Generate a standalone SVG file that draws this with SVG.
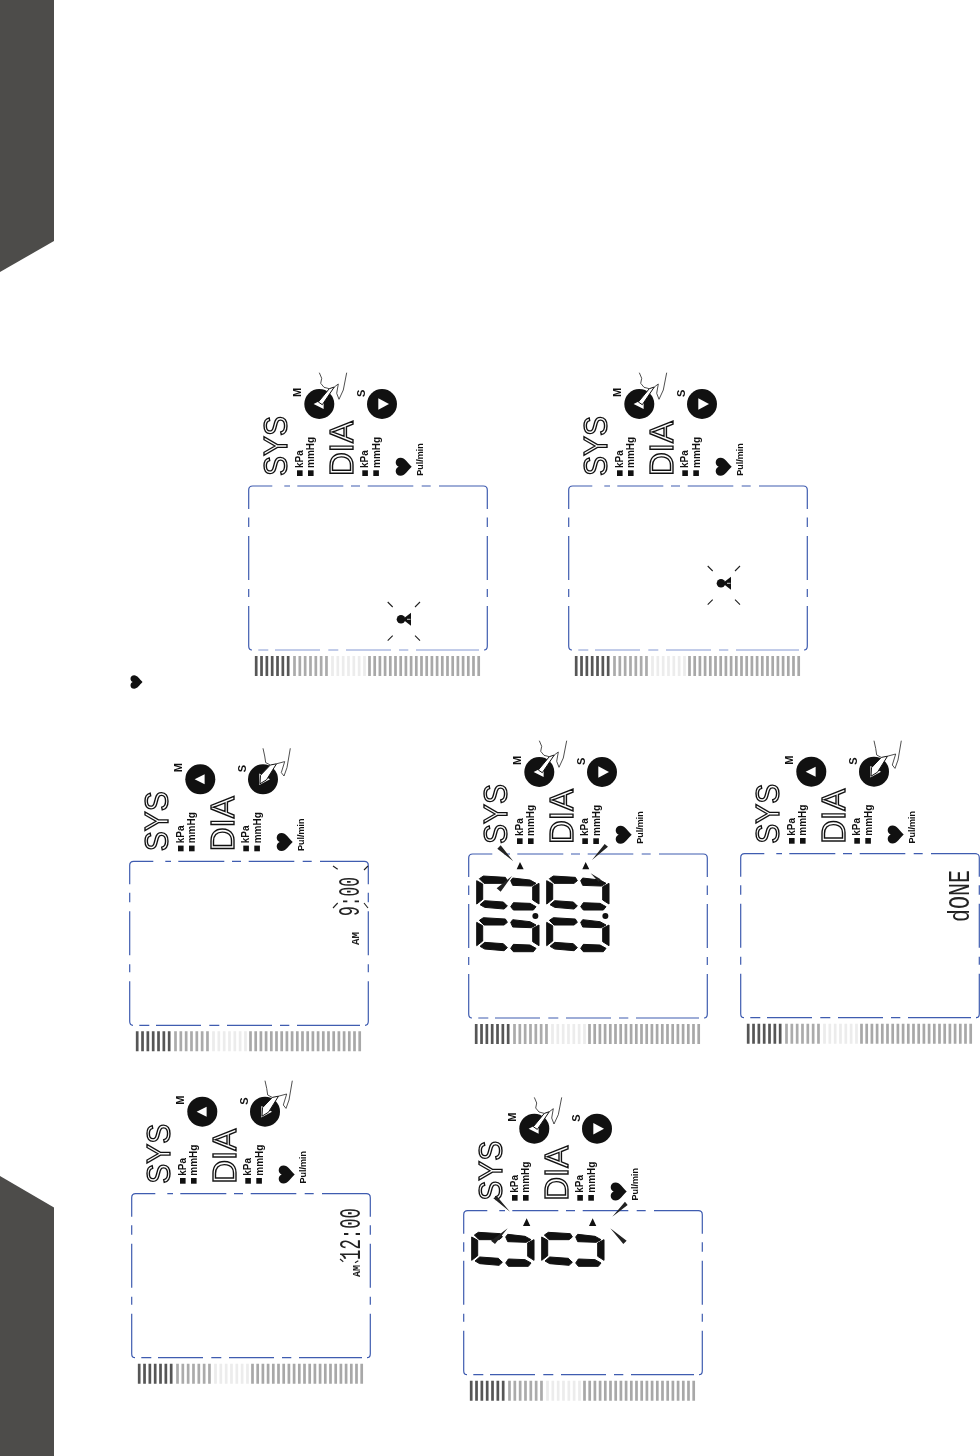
<svg xmlns="http://www.w3.org/2000/svg" width="980" height="1456" viewBox="0 0 980 1456">
<style>
text{font-family:"Liberation Sans",Arial,sans-serif}
.big{font-size:33px;fill:#fff;stroke:#111;stroke-width:1.4px}
.unit{font-size:10px;font-weight:700;fill:#111}
.key{font-size:11px;font-weight:700;fill:#111}
.pul{font-size:9px;font-weight:700;fill:#111}
.lcd{font-family:"Liberation Mono","DejaVu Sans Mono",monospace;font-size:30px;fill:#222}
.am{font-family:"Liberation Mono","DejaVu Sans Mono",monospace;font-size:10px;font-weight:700;fill:#222}
.edge{fill:none;stroke:#3f5cb0;stroke-width:1.2;stroke-linecap:butt}
.pale{fill:none;stroke:#aebce2;stroke-width:1.5}
.ink{fill:#111}
.seg{stroke:#111;stroke-width:3;stroke-linejoin:round}
.flash{fill:none;stroke:#222;stroke-width:1.1}
.hand{fill:none;stroke:#222;stroke-width:.8}
.finger{fill:#fff;stroke:#111;stroke-width:1}
.wedge{fill:#222}
</style>
<defs>
<g id="bars" fill="none" stroke-width="2.7">
<path stroke="#565656" d="M256.2 656v20m5.33-20v20m5.33-20v20m5.33-20v20m5.33-20v20m5.33-20v20m5.33-20v20"/>
<path stroke="#ababab" d="M294.5 656v20m5.33-20v20m5.33-20v20m5.33-20v20m5.33-20v20m5.33-20v20m5.33-20v20"/>
<path stroke="#ececec" d="M332.5 656v20m5.33-20v20m5.33-20v20m5.33-20v20m5.33-20v20m5.33-20v20m5.33-20v20"/>
<path stroke="#a8a8a8" d="M369.5 656v20m5.2-20v20m5.2-20v20m5.2-20v20m5.2-20v20m5.2-20v20m5.2-20v20m5.2-20v20m5.2-20v20m5.2-20v20m5.2-20v20m5.2-20v20m5.2-20v20m5.2-20v20m5.2-20v20m5.2-20v20m5.2-20v20m5.2-20v20m5.2-20v20m5.2-20v20m5.2-20v20m5.2-20v20"/>
</g>
<path id="box" class="edge" d="M272.3 486H252.7Q248.7 486 248.7 490V509M284.3 486H290M297.3 486H343.3M351 486H360M367.7 486H413.3M421.7 486H430.7M439 486H483.3Q487.3 486 487.3 490V509M248.7 517.5V527M248.7 536V580M248.7 589V597M248.7 606V646Q248.7 650 252 650M487.3 517.5V527M487.3 536V580M487.3 589V597M487.3 606V646Q487.3 650 484 650"/>
<path id="bottom" d="M258.3 650H268.3M275 650H320M328.3 650H338.3M346 650H391M399 650H408.3M416 650H479"/>
<path id="heart" class="ink" d="M0 8C-4 4-9 1-9-3C-9-6-7-8-4.5-8C-2.5-8-.8-7 0-5C.8-7 2.5-8 4.5-8C7-8 9-6 9-3C9 1 4 4 0 8Z"/>
<g id="buttons">
<circle class="ink" cx="319.3" cy="404" r="15"/>
<path fill="#fff" d="M313.6 404L323.6 399V409Z"/>
<circle class="ink" cx="382" cy="404" r="15"/>
<path fill="#fff" d="M389 404L378.3 398.2V409.8Z"/>
</g>
<g id="hand-m">
<path class="hand" d="M319.3 372.7L321.7 378.3L320.7 383.3L324 387.3L329.3 388.7M334.3 387L338.3 384L336.7 393.3L339 399.3L343.3 390L346.7 372.7"/>
<path class="finger" d="M329.3 388.7L318.3 402L322.3 404.7L334.3 387Z"/>
</g>
<g id="hand-s">
<path class="hand" d="M382 373L383.7 380.7L384.7 387.3L389.3 389.7M395.5 388.5L403.7 386.3L400.3 397.3L403 400.7L406 392.3L409.3 373"/>
<path class="finger" d="M389.3 389.7L379.5 400L379 408.5L385.5 404.5L395.5 388.5Z"/>
</g>
<g id="pair" class="seg">
<path d="M0 12L18 22V68L0 82ZM8 6L20 -2L86 2L92 12L82 20H22ZM10 84L24 72L80 76L92 88L82 97L24 92ZM102 12L108 4L160 10L178 20L164 28L108 26ZM187 20V82L168 70V30ZM102 90L110 78L160 80L178 90L170 100H110Z"/>
<path transform="translate(210 0)" d="M0 12L18 22V68L0 82ZM8 6L20 -2L86 2L92 12L82 20H22ZM10 84L24 72L80 76L92 88L82 97L24 92ZM102 12L108 4L160 10L178 20L164 28L108 26ZM187 20V82L168 70V30ZM102 90L110 78L160 80L178 90L170 100H110Z"/>
</g>
<g id="user">
<circle class="ink" cx="401" cy="619.3" r="4.3"/>
<path class="ink" d="M402.5 619.3L411 612.8V625.8Z"/>
<path fill="none" stroke="#fff" stroke-width=".8" d="M407 619.3H410.5"/>
<path class="flash" d="M387.7 602L392.7 607M420 602L415 607M387.7 640.7L392.7 635.7M420 640.7L415 635.7"/>
</g>
</defs>
<g id="page" style="opacity:.999">
<rect width="0" height="0" fill="none"/>
<g id="corners">
<path fill="#4d4c4a" d="M0 0H54V241L0 272Z"/>
<path fill="#4d4c4a" d="M0 1176L54 1207.5V1456H0Z"/>
</g>
<use id="small-heart" href="#heart" transform="translate(136.5 682) rotate(-90) scale(.75)"/>

<g id="panel-1">
<use href="#bars"/><use href="#box"/><use href="#bottom" class="pale"/>
<text class="big" transform="translate(286.5 476) rotate(-90)" textLength="60" lengthAdjust="spacingAndGlyphs">SYS</text>
<text class="big" transform="translate(352.5 476) rotate(-90)" textLength="55" lengthAdjust="spacingAndGlyphs">DIA</text>
<rect class="ink" x="297" y="470.3" width="5.6" height="5.7"/><rect class="ink" x="308" y="470.3" width="5.6" height="5.7"/><rect class="ink" x="362.3" y="470.3" width="5.6" height="5.7"/><rect class="ink" x="373.3" y="470.3" width="5.6" height="5.7"/>
<text class="unit" transform="translate(302.7 468) rotate(-90)">kPa</text>
<text class="unit" transform="translate(313.7 468) rotate(-90)">mmHg</text>
<text class="unit" transform="translate(368.3 468) rotate(-90)">kPa</text>
<text class="unit" transform="translate(379.5 468) rotate(-90)">mmHg</text>
<use href="#heart" transform="translate(403.7 466.7) rotate(-90)"/>
<text class="pul" transform="translate(422.7 475.7) rotate(-90)">Pul/min</text>
<use href="#buttons"/>
<text class="key" transform="translate(300.5 397) rotate(-90)">M</text>
<text class="key" transform="translate(364.5 397) rotate(-90)">S</text>
<use href="#hand-m"/><use href="#user"/>
</g>

<g id="panel-2"><g transform="translate(320 0)">
<use href="#bars"/><use href="#box"/><use href="#bottom" class="pale"/>
<text class="big" transform="translate(286.5 476) rotate(-90)" textLength="60" lengthAdjust="spacingAndGlyphs">SYS</text>
<text class="big" transform="translate(352.5 476) rotate(-90)" textLength="55" lengthAdjust="spacingAndGlyphs">DIA</text>
<rect class="ink" x="297" y="470.3" width="5.6" height="5.7"/><rect class="ink" x="308" y="470.3" width="5.6" height="5.7"/><rect class="ink" x="362.3" y="470.3" width="5.6" height="5.7"/><rect class="ink" x="373.3" y="470.3" width="5.6" height="5.7"/>
<text class="unit" transform="translate(302.7 468) rotate(-90)">kPa</text>
<text class="unit" transform="translate(313.7 468) rotate(-90)">mmHg</text>
<text class="unit" transform="translate(368.3 468) rotate(-90)">kPa</text>
<text class="unit" transform="translate(379.5 468) rotate(-90)">mmHg</text>
<use href="#heart" transform="translate(403.7 466.7) rotate(-90)"/>
<text class="pul" transform="translate(422.7 475.7) rotate(-90)">Pul/min</text>
<use href="#buttons"/>
<text class="key" transform="translate(300.5 397) rotate(-90)">M</text>
<text class="key" transform="translate(364.5 397) rotate(-90)">S</text>
<use href="#hand-m"/><use href="#user" transform="translate(0 -36)"/>
</g></g>

<g id="panel-3"><g transform="translate(220 368)">
<use href="#bars"/><use href="#box"/><use href="#bottom" class="edge"/>
<text class="big" transform="translate(286.5 476) rotate(-90)" textLength="60" lengthAdjust="spacingAndGlyphs">SYS</text>
<text class="big" transform="translate(352.5 476) rotate(-90)" textLength="55" lengthAdjust="spacingAndGlyphs">DIA</text>
<rect class="ink" x="297" y="470.3" width="5.6" height="5.7"/><rect class="ink" x="308" y="470.3" width="5.6" height="5.7"/><rect class="ink" x="362.3" y="470.3" width="5.6" height="5.7"/><rect class="ink" x="373.3" y="470.3" width="5.6" height="5.7"/>
<text class="unit" transform="translate(302.7 468) rotate(-90)">kPa</text>
<text class="unit" transform="translate(313.7 468) rotate(-90)">mmHg</text>
<text class="unit" transform="translate(368.3 468) rotate(-90)">kPa</text>
<text class="unit" transform="translate(379.5 468) rotate(-90)">mmHg</text>
<use href="#heart" transform="translate(403.7 466.7) rotate(-90)"/>
<text class="pul" transform="translate(422.7 475.7) rotate(-90)">Pul/min</text>
<use href="#buttons"/>
<text class="key" transform="translate(300.5 397) rotate(-90)">M</text>
<text class="key" transform="translate(364.5 397) rotate(-90)">S</text>
<use href="#hand-m"/>
</g>
<g transform="translate(476.7 876.7) scale(.3333)" fill="#111">
<use href="#pair"/><use href="#pair" y="125"/>
<circle cx="176" cy="118" r="9"/><circle cx="386" cy="118" r="9"/>
</g>
<g transform="translate(470 840) scale(.3333)">
<path class="ink" d="M140 88L150 66L161 88ZM337 88L347 66L358 88Z"/>
<path class="wedge" d="M82 26L92 16L130 64ZM404 12L414 20L366 60ZM80 145L92 155L126 108ZM392 118L386 126L362 100Z"/>
</g></g>

<g id="panel-4"><g transform="translate(-119 375.3)">
<use href="#bars"/><use href="#box"/><use href="#bottom" class="edge"/>
<text class="big" transform="translate(286.5 476) rotate(-90)" textLength="60" lengthAdjust="spacingAndGlyphs">SYS</text>
<text class="big" transform="translate(352.5 476) rotate(-90)" textLength="55" lengthAdjust="spacingAndGlyphs">DIA</text>
<rect class="ink" x="297" y="470.3" width="5.6" height="5.7"/><rect class="ink" x="308" y="470.3" width="5.6" height="5.7"/><rect class="ink" x="362.3" y="470.3" width="5.6" height="5.7"/><rect class="ink" x="373.3" y="470.3" width="5.6" height="5.7"/>
<text class="unit" transform="translate(302.7 468) rotate(-90)">kPa</text>
<text class="unit" transform="translate(313.7 468) rotate(-90)">mmHg</text>
<text class="unit" transform="translate(368.3 468) rotate(-90)">kPa</text>
<text class="unit" transform="translate(379.5 468) rotate(-90)">mmHg</text>
<use href="#heart" transform="translate(403.7 466.7) rotate(-90)"/>
<text class="pul" transform="translate(422.7 475.7) rotate(-90)">Pul/min</text>
<use href="#buttons"/>
<text class="key" transform="translate(300.5 397) rotate(-90)">M</text>
<text class="key" transform="translate(364.5 397) rotate(-90)">S</text>
<use href="#hand-s"/>
</g>
<text class="lcd" transform="translate(358.5 916) rotate(-90)" textLength="39" lengthAdjust="spacingAndGlyphs">9:00</text>
<text class="am" transform="translate(358.5 945) rotate(-90)" textLength="13" lengthAdjust="spacingAndGlyphs">AM</text>
<path class="flash" d="M333 866L337.7 869.3M368 866L364 870M333 908L337.7 903M364 903L368 908"/>
</g>

<g id="panel-5"><g transform="translate(215 724.7)">
<use href="#bars"/><use href="#box"/><use href="#bottom" class="edge"/>
<text class="big" transform="translate(286.5 476) rotate(-90)" textLength="60" lengthAdjust="spacingAndGlyphs">SYS</text>
<text class="big" transform="translate(352.5 476) rotate(-90)" textLength="55" lengthAdjust="spacingAndGlyphs">DIA</text>
<rect class="ink" x="297" y="470.3" width="5.6" height="5.7"/><rect class="ink" x="308" y="470.3" width="5.6" height="5.7"/><rect class="ink" x="362.3" y="470.3" width="5.6" height="5.7"/><rect class="ink" x="373.3" y="470.3" width="5.6" height="5.7"/>
<text class="unit" transform="translate(302.7 468) rotate(-90)">kPa</text>
<text class="unit" transform="translate(313.7 468) rotate(-90)">mmHg</text>
<text class="unit" transform="translate(368.3 468) rotate(-90)">kPa</text>
<text class="unit" transform="translate(379.5 468) rotate(-90)">mmHg</text>
<use href="#heart" transform="translate(403.7 466.7) rotate(-90)"/>
<text class="pul" transform="translate(422.7 475.7) rotate(-90)">Pul/min</text>
<use href="#buttons"/>
<text class="key" transform="translate(300.5 397) rotate(-90)">M</text>
<text class="key" transform="translate(364.5 397) rotate(-90)">S</text>
<use href="#hand-m"/>
</g>
<g transform="translate(471.7 1233) scale(.3333)" fill="#111"><use href="#pair"/></g>
<g transform="translate(455 1090) scale(.3333)">
<path class="ink" d="M204 408L215 385L226 408ZM402 408L413 385L424 408Z"/>
<path class="wedge" d="M115 325L125 318L165 365ZM510 335L518 345L472 380ZM108 452L120 462L158 415ZM466 415L515 452L505 462Z"/>
</g></g>

<g id="panel-6"><g transform="translate(492 367.7)">
<use href="#bars"/><use href="#box"/><use href="#bottom" class="edge"/>
<text class="big" transform="translate(286.5 476) rotate(-90)" textLength="60" lengthAdjust="spacingAndGlyphs">SYS</text>
<text class="big" transform="translate(352.5 476) rotate(-90)" textLength="55" lengthAdjust="spacingAndGlyphs">DIA</text>
<rect class="ink" x="297" y="470.3" width="5.6" height="5.7"/><rect class="ink" x="308" y="470.3" width="5.6" height="5.7"/><rect class="ink" x="362.3" y="470.3" width="5.6" height="5.7"/><rect class="ink" x="373.3" y="470.3" width="5.6" height="5.7"/>
<text class="unit" transform="translate(302.7 468) rotate(-90)">kPa</text>
<text class="unit" transform="translate(313.7 468) rotate(-90)">mmHg</text>
<text class="unit" transform="translate(368.3 468) rotate(-90)">kPa</text>
<text class="unit" transform="translate(379.5 468) rotate(-90)">mmHg</text>
<use href="#heart" transform="translate(403.7 466.7) rotate(-90)"/>
<text class="pul" transform="translate(422.7 475.7) rotate(-90)">Pul/min</text>
<use href="#buttons"/>
<text class="key" transform="translate(300.5 397) rotate(-90)">M</text>
<text class="key" transform="translate(364.5 397) rotate(-90)">S</text>
<use href="#hand-s"/>
</g>
<text class="lcd" transform="translate(969 922) rotate(-90)" textLength="52" lengthAdjust="spacingAndGlyphs">dONE</text>
</g>

<g id="panel-7"><g transform="translate(-117 707.7)">
<use href="#bars"/><use href="#box"/><use href="#bottom" class="edge"/>
<text class="big" transform="translate(286.5 476) rotate(-90)" textLength="60" lengthAdjust="spacingAndGlyphs">SYS</text>
<text class="big" transform="translate(352.5 476) rotate(-90)" textLength="55" lengthAdjust="spacingAndGlyphs">DIA</text>
<rect class="ink" x="297" y="470.3" width="5.6" height="5.7"/><rect class="ink" x="308" y="470.3" width="5.6" height="5.7"/><rect class="ink" x="362.3" y="470.3" width="5.6" height="5.7"/><rect class="ink" x="373.3" y="470.3" width="5.6" height="5.7"/>
<text class="unit" transform="translate(302.7 468) rotate(-90)">kPa</text>
<text class="unit" transform="translate(313.7 468) rotate(-90)">mmHg</text>
<text class="unit" transform="translate(368.3 468) rotate(-90)">kPa</text>
<text class="unit" transform="translate(379.5 468) rotate(-90)">mmHg</text>
<use href="#heart" transform="translate(403.7 466.7) rotate(-90)"/>
<text class="pul" transform="translate(422.7 475.7) rotate(-90)">Pul/min</text>
<use href="#buttons"/>
<text class="key" transform="translate(300.5 397) rotate(-90)">M</text>
<text class="key" transform="translate(364.5 397) rotate(-90)">S</text>
<use href="#hand-s"/>
</g>
<text class="lcd" transform="translate(360 1260) rotate(-90)" textLength="52" lengthAdjust="spacingAndGlyphs">12:00</text>
<text class="am" transform="translate(360 1277) rotate(-90)" textLength="12" lengthAdjust="spacingAndGlyphs">AM</text>
<path class="flash" d="M340 1259L343.3 1261.7M355 1262.7L358.3 1260.7"/>
</g>
</g>
</svg>
